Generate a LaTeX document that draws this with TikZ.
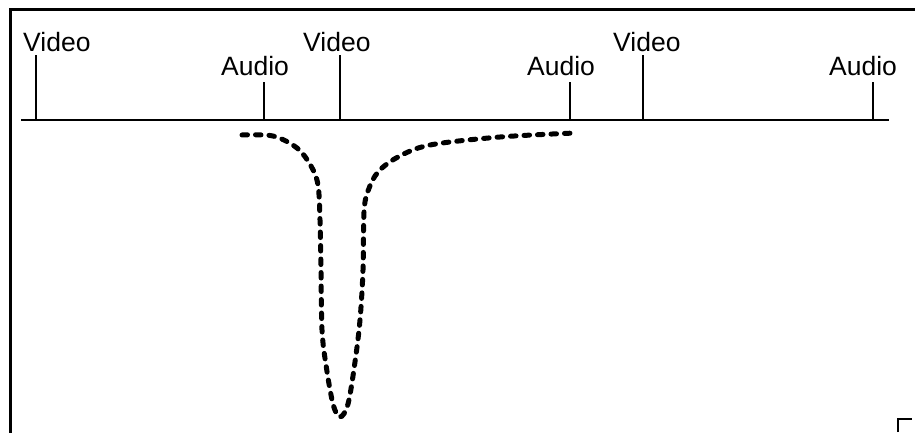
\documentclass[tikz,border=0pt]{standalone}
\usepackage{fontspec}
\setmainfont{Liberation Sans}
\begin{document}
\begin{tikzpicture}[x=1pt,y=-1pt,
  frameline/.style={line width=3pt},
  axisline/.style={line width=2pt},
  tickline/.style={line width=1.5pt},
  lbl/.style={anchor=base west,inner sep=0pt,font=\fontsize{26.5}{28}\selectfont},
  dashcurve/.style={line width=5pt,line cap=round,dash pattern=on 5.5pt off 8pt}]
\useasboundingbox (0,0) rectangle (915,433);
% frame (top and left edges)
\draw[frameline] (10,433) -- (10,10) -- (916,10);
% time axis
\coordinate (axL) at (21,120);
\coordinate (axR) at (889,120);
\draw[axisline] (axL) -- (axR);
% ticks: video frames and audio frames
\foreach \n/\x/\t in {v1/36/55, a1/264/82, v2/340/55, a2/570/82, v3/643/55, a3/873/82}{
  \coordinate (\n b) at (\x,120);
  \coordinate (\n t) at (\x,\t);
  \draw[tickline] (\n b) -- (\n t);
}
% labels
\node[lbl] (lv1) at (23,52) {Video};
\node[lbl] (lv2) at (303,52) {Video};
\node[lbl] (lv3) at (613,52) {Video};
\node[lbl] (la1) at (221,76) {Audio};
\node[lbl] (la2) at (527,76) {Audio};
\node[lbl] (la3) at (829,76) {Audio};
% dashed response curve
\draw[dashcurve] plot[smooth,tension=0.55] coordinates {
  (242,135) (273,136) (297,148) (311,166) (318,185) (320,220) (321,270)
  (322,330) (326,365) (333,404) (340,417) (348,404) (355,362) (360,320)
  (363,270) (364,212) (368,191) (378,172) (398,157) (430,145) (500,137) (575,133)};
% corner mark
\draw[line width=1.5pt] (898,432) -- (898,419) -- (912,419);
\end{tikzpicture}
\end{document}
